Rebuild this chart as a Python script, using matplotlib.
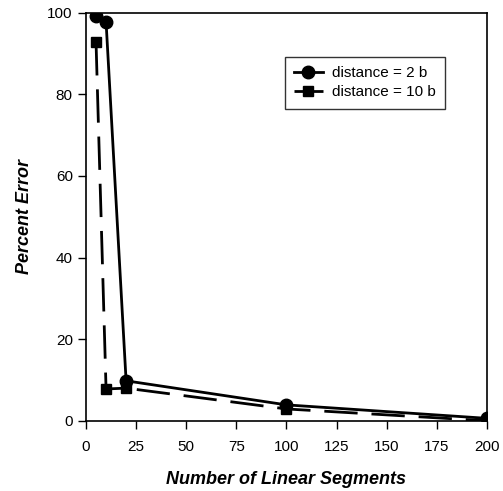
import matplotlib
matplotlib.use('Agg')
from matplotlib import pyplot as plt

segments = [5, 10, 20, 100, 200]
err_2b = [99.2, 97.8, 9.8, 3.9, 0.6]
err_10b = [92.8, 7.8, 8.0, 2.9, 0.0]

plt.rcParams['font.family'] = ['Liberation Sans', 'DejaVu Sans']

fig = plt.figure(figsize=(5.03, 4.91), dpi=100)
ax = fig.add_axes([0.171, 0.143, 0.797, 0.831])

ax.plot(segments, err_2b, color='black', lw=2, marker='o', ms=9,
        label='distance = 2 b')
ax.plot(segments, err_10b, color='black', lw=2, marker='s', ms=7,
        dashes=(12, 5), label='distance = 10 b')

ax.set_xlim(0, 200)
ax.set_ylim(0, 100)
ax.set_xticks(range(0, 201, 25))
ax.set_yticks(range(0, 101, 20))
ax.tick_params(direction='out', length=6, labelsize=11, width=1)
ax.tick_params(axis='x', pad=8)
for s in ax.spines.values():
    s.set_linewidth(1.2)

ax.set_xlabel('Number of Linear Segments', fontsize=13, fontweight='bold',
              fontstyle='italic', labelpad=12)
ax.set_ylabel('Percent Error', fontsize=13, fontweight='bold',
              fontstyle='italic', labelpad=10)

leg = ax.legend(loc='upper right', bbox_to_anchor=(0.895, 0.892), fontsize=11,
                frameon=True, fancybox=False, edgecolor='black',
                borderaxespad=0, handlelength=1.9, borderpad=0.6,
                labelspacing=0.35, handletextpad=0.6)
leg.get_frame().set_linewidth(1)

fig.savefig('out.png', dpi=100)
